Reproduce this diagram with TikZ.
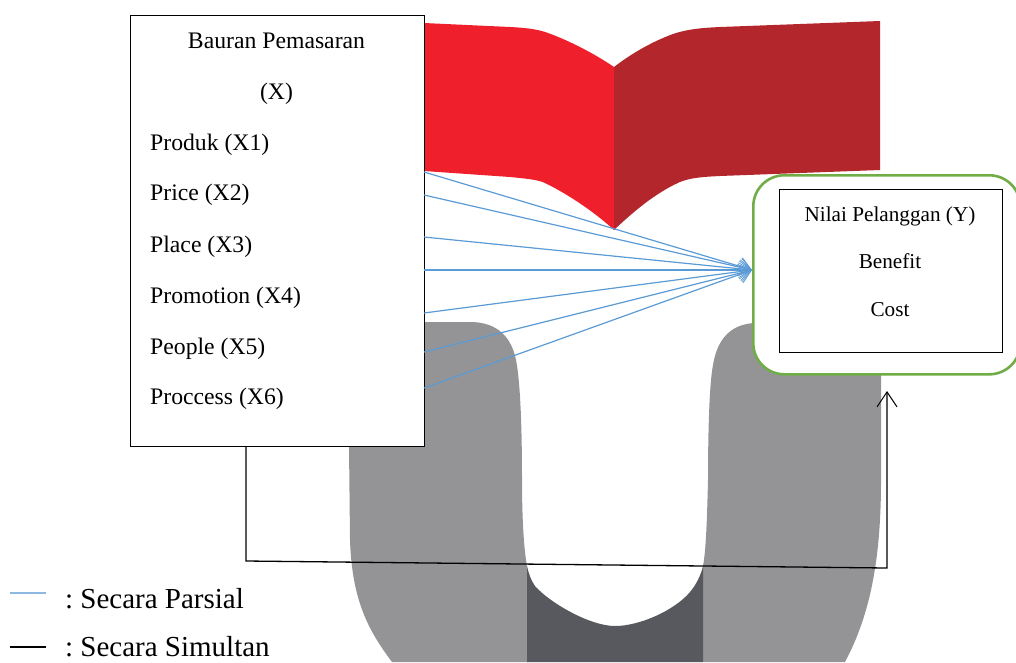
\documentclass[tikz,border=0pt]{standalone}
\usepackage{fontspec}
\setmainfont{Liberation Serif}
\usetikzlibrary{arrows.meta}
\definecolor{redL}{HTML}{EF202B}
\definecolor{redR}{HTML}{B3262B}
\definecolor{grayU}{HTML}{949496}
\definecolor{darkU}{HTML}{58595E}
\definecolor{blueL}{HTML}{5B9BD5}
\definecolor{blueLeg}{HTML}{8DB8E2}
\definecolor{greenB}{HTML}{70AD47}
\tikzset{
  boxnode/.style={draw=black,fill=white,line width=1.2pt,rectangle,inner sep=0pt,anchor=north west},
  greenbox/.style={draw=greenB,fill=white,line width=2.6pt,rectangle,rounded corners=31pt,inner sep=0pt,anchor=north west},
  lefttext/.style={anchor=base west,inner sep=0pt,font=\fontsize{23.7}{24}\selectfont},
  midtext/.style={anchor=base,inner sep=0pt,font=\fontsize{23.7}{24}\selectfont},
  righttext/.style={anchor=base,inner sep=0pt,font=\fontsize{21.2}{22}\selectfont},
  legtext/.style={anchor=base west,inner sep=0pt,font=\fontsize{29}{30}\selectfont},
  partial/.style={draw=blueL,line width=1.2pt,-{Straight Barb[length=12pt,width=18pt,line width=0.8pt]}},
  simul/.style={draw=black,line width=1.3pt,-{Straight Barb[length=15pt,width=20pt,line width=1pt]}}
}
\begin{document}
\begin{tikzpicture}[x=1pt,y=-1pt]
\useasboundingbox (0,0) rectangle (1016,662);
% background shapes
\fill[redL] (424,23) -- (510,27) .. controls (530,28) and (540,30) .. (548,33) .. controls (570,41) and (595,54) .. (614,67) -- (614,230) .. controls (600,217) and (575,198) .. (547,184) .. controls (540,180) and (530,179) .. (510,177) -- (424,171) -- cycle;
\fill[redR] (614,67) .. controls (632,53) and (655,40) .. (676,33) .. controls (690,29) and (700,28) .. (720,27) -- (880,21) -- (880,170) -- (720,176) .. controls (700,177) and (690,178) .. (680,182) .. controls (655,193) and (632,213) .. (614,230) -- cycle;
\fill[grayU] (424,322) -- (470,322) .. controls (500,322) and (512,340) .. (516,360) .. controls (521,385) and (522,440) .. (522,480) .. controls (522,520) and (524,550) .. (527,566) -- (527,662) -- (392,662) .. controls (368,630) and (352,600) .. (350,540) -- (349,446) -- (424,446) -- cycle;
\fill[grayU] (703,662) -- (703,566) .. controls (706,550) and (707,520) .. (708,480) .. controls (708,440) and (709,385) .. (713,365) .. controls (717,340) and (730,324) .. (755,323) -- (881,323) -- (881,480) .. controls (881,560) and (870,615) .. (845,662) -- cycle;
\fill[darkU] (527,566) .. controls (529,575) and (531,580) .. (535,586) .. controls (550,603) and (590,626) .. (615,626) .. controls (640,626) and (675,610) .. (690,592) .. controls (696,585) and (701,575) .. (703,566) -- (703,662) -- (527,662) -- cycle;
% boxes
\node[boxnode,minimum width=294pt,minimum height=431pt] (left) at (130,15) {};
\node[greenbox,minimum width=267pt,minimum height=199pt] (outer) at (752,174) {};
\node[boxnode,minimum width=223pt,minimum height=163pt] (inner) at (779,189) {};
% left texts
\node[midtext] (t0) at (276.5,48.5) {Bauran Pemasaran};
\node[midtext] (t1) at (276.5,99.5) {(X)};
\node[lefttext] (x1) at (150,150.5) {Produk (X1)};
\node[lefttext] (x2) at (150,200.5) {Price (X2)};
\node[lefttext] (x3) at (150,252.5) {Place (X3)};
\node[lefttext] (x4) at (150,303.5) {Promotion (X4)};
\node[lefttext] (x5) at (150,354.5) {People (X5)};
\node[lefttext] (x6) at (150,404.5) {Proccess (X6)};
% right texts
\node[righttext] (y0) at (890,221) {Nilai Pelanggan (Y)};
\node[righttext] (y1) at (890,268) {Benefit};
\node[righttext] (y2) at (890,316) {Cost};
% connector ends
\coordinate (a1) at (424,172);
\coordinate (a2) at (424,195);
\coordinate (a3) at (424,237);
\coordinate (a4) at (424,270);
\coordinate (a5) at (424,313);
\coordinate (a6) at (424,352);
\coordinate (a7) at (424,388);
\coordinate (tip) at (752,270);
\foreach \n in {a1,a2,a3,a4,a5,a6,a7}{\draw[partial] (\n) -- (tip);}
\coordinate (s0) at (246,446);
\coordinate (s1) at (246,561);
\coordinate (s2) at (887,568);
\coordinate (s3) at (887,391);
\draw[simul] (s0) -- (s1) -- (s2) -- (s3);
% legend
\coordinate (l1a) at (10,593); \coordinate (l1b) at (46,593);
\coordinate (l2a) at (10,647); \coordinate (l2b) at (46,647);
\draw[blueLeg,line width=1.5pt] (l1a) -- (l1b);
\draw[black,line width=1.2pt] (l2a) -- (l2b);
\node[legtext] (lg1) at (65,608) {:\hspace{-2.5pt} Secara Parsial};
\node[legtext] (lg2) at (65,656) {:\hspace{-2.5pt} Secara Simultan};
\end{tikzpicture}
\end{document}
